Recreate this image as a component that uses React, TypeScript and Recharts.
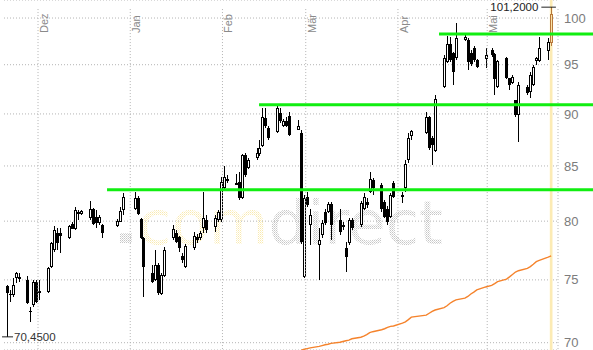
import React from 'react';
import {
  ComposedChart,
  Bar,
  Line,
  XAxis,
  YAxis,
  CartesianGrid,
  ReferenceLine,
  ReferenceArea,
} from 'recharts';

// trading day index, 0 = 1 Dez
const days = [
  -11, -10, -9, -8, -7, -4, -3, -2, -1, 0, 3, 4, 5, 6, 7, 10, 11, 12, 13, 14, 17, 18, 19, 20, 21,
  26, 27, 28, 32, 33, 34, 35, 38, 39, 40, 41, 42, 45, 46, 47, 48, 49, 52, 53, 54, 55, 56, 59, 60,
  61, 62, 63, 66, 67, 68, 69, 70, 73, 74, 75, 76, 77, 80, 81, 82, 83, 84, 87, 88, 89, 90, 91, 94,
  95, 96, 97, 98, 101, 102, 103, 104, 105, 108, 109, 110, 111, 112, 115, 116, 117, 118, 119, 122,
  123, 124, 125, 130, 131, 132, 133, 136, 137, 138, 139, 140, 143, 144, 145, 146, 147, 150, 152,
  153, 154, 157, 158, 159, 160, 161, 164, 165, 166, 167, 168, 171, 172,
];

const openPrices = [
  74.51, 73.85, 73.78, 75.14, 75.22, 75.0, 72.45, 72.97, 74.86, 74.02, 74.04, 76.05, 77.51, 78.99,
  78.94, 78.5, 79.75, 79.29, 80.84, 80.63, 80.25, 81.08, 80.39, 79.84, 79.66, 79.6, 79.95, 80.99,
  81.05, 82.03, 80.16, 78.5, 75.55, 75.0, 76.24, 73.86, 75.33, 78.5, 79.0, 78.59, 77.0, 76.1, 77.65,
  78.65, 78.5, 79.38, 80.1, 79.52, 80.1, 80.1, 82.94, 83.77, 83.4, 83.5, 82.03, 86.03, 84.84, 85.72,
  86.1, 86.91, 89.62, 88.64, 88.27, 90.07, 88.84, 89.31, 89.82, 88.47, 88.1, 75.27, 82.17, 79.66,
  77.94, 78.79, 80.84, 80.84, 81.52, 80.1, 79.52, 77.71, 78.07, 80.1, 79.66, 81.1, 81.69, 82.63,
  83.7, 83.24, 81.73, 81.1, 80.39, 83.4, 82.3, 83.0, 85.56, 87.87, 88.1, 89.72, 87.68, 86.42, 92.74,
  95.32, 97.15, 96.2, 95.67, 97.61, 97.61, 96.2, 96.73, 95.49, 95.6, 96.55, 96.09, 92.74, 95.67,
  93.6, 93.08, 91.39, 89.9, 92.74, 92.23, 92.91, 95.39, 95.39, 96.44, 97.26,
];

const highPrices = [
  74.59, 74.18, 75.16, 75.68, 75.57, 75.33, 72.83, 75.0, 75.0, 75.0, 76.07, 78.22, 79.58, 79.4,
  79.38, 79.66, 79.93, 81.23, 80.99, 80.99, 81.82, 81.17, 80.99, 80.55, 79.75, 80.19, 81.23, 82.54,
  82.63, 82.24, 80.28, 78.6, 76.24, 77.51, 76.38, 75.57, 77.79, 79.66, 79.23, 78.71, 77.23, 78.02,
  79.08, 78.88, 79.14, 82.63, 80.55, 80.55, 80.99, 84.02, 85.04, 84.17, 84.24, 84.48, 86.13, 86.22,
  85.75, 86.67, 87.46, 90.57, 90.57, 88.81, 90.74, 90.63, 89.5, 89.72, 90.2, 89.4, 88.43, 82.33,
  82.63, 81.1, 79.38, 80.1, 81.1, 81.73, 81.73, 81.1, 79.93, 78.22, 80.28, 80.28, 81.79, 82.51,
  82.06, 84.42, 83.88, 83.4, 81.88, 81.3, 82.51, 83.6, 82.63, 85.56, 88.1, 88.43, 90.2, 89.79,
  87.84, 91.85, 95.99, 98.07, 97.97, 96.34, 99.42, 98.15, 97.8, 96.5, 97.0, 95.6, 96.73, 96.73,
  96.2, 95.5, 95.8, 93.66, 93.93, 91.4, 93.25, 92.91, 94.27, 94.97, 95.8, 97.97, 97.8, 101.2,
];

const lowPrices = [
  70.45, 73.21, 73.61, 74.75, 74.84, 73.05, 71.64, 72.83, 73.13, 73.37, 73.94, 75.99, 77.34, 77.51,
  77.23, 78.45, 79.32, 79.23, 80.1, 80.55, 80.1, 79.66, 79.4, 79.66, 78.5, 79.49, 79.93, 80.55,
  80.99, 80.55, 78.45, 73.6, 74.75, 74.92, 73.78, 73.78, 75.25, 78.36, 78.1, 77.34, 76.38, 75.99,
  77.51, 78.1, 78.36, 78.94, 78.94, 79.08, 79.93, 79.95, 82.79, 83.42, 83.24, 81.88, 81.97, 84.0,
  84.72, 85.56, 85.93, 86.79, 88.59, 87.46, 88.14, 89.11, 88.7, 88.7, 87.84, 88.43, 78.0, 75.14,
  81.26, 77.94, 75.0, 78.5, 79.66, 80.72, 78.36, 78.79, 79.23, 75.68, 77.94, 79.23, 79.49, 80.99,
  81.18, 82.51, 82.33, 80.84, 80.28, 79.66, 80.28, 82.06, 81.6, 82.63, 85.24, 87.46, 88.0, 86.51,
  85.1, 86.36, 92.6, 95.18, 95.28, 92.9, 95.49, 97.5, 94.45, 94.9, 95.3, 94.63, 94.63, 95.8, 91.9,
  92.6, 93.53, 92.4, 93.0, 89.72, 87.3, 91.9, 91.56, 92.8, 94.97, 95.28, 95.49, 97.0,
];

const closePrices = [
  73.94, 73.78, 74.59, 75.55, 75.25, 73.1, 72.41, 74.86, 73.23, 74.06, 75.96, 78.13, 79.23, 78.07,
  78.71, 79.58, 79.34, 80.99, 80.63, 80.9, 81.1, 79.75, 79.84, 80.37, 78.99, 80.04, 80.93, 82.12,
  82.03, 80.61, 78.5, 76.1, 74.86, 76.24, 73.91, 75.41, 77.51, 79.29, 78.22, 77.65, 76.66, 77.85,
  78.73, 78.36, 78.94, 80.3, 79.23, 80.25, 80.79, 83.5, 84.02, 83.6, 83.43, 82.03, 86.03, 84.12,
  85.56, 86.2, 86.67, 89.72, 88.84, 87.62, 90.63, 89.31, 89.31, 88.84, 87.94, 88.84, 78.22, 82.03,
  81.43, 80.55, 78.36, 79.81, 79.81, 81.52, 79.66, 79.03, 79.66, 76.94, 80.1, 79.38, 81.58, 82.17,
  81.43, 83.79, 82.94, 81.1, 80.39, 79.95, 82.33, 82.17, 82.36, 85.15, 87.68, 88.33, 89.72, 86.67,
  86.98, 91.46, 95.67, 97.15, 95.49, 94.27, 97.82, 97.97, 95.32, 95.05, 95.49, 94.8, 95.99, 95.99,
  93.52, 95.39, 93.6, 92.91, 93.76, 89.9, 92.91, 92.07, 93.93, 94.8, 95.67, 96.73, 97.43, 100.4,
];

// 200-Tage-Linie (only the visible part)
const movingAvg: (number | null)[] = [
  ...Array(68).fill(null),
  69.42, 69.5, 69.55, 69.6, 69.72, 69.78, 69.84, 69.88, 69.95, 70.03, 70.09, 70.15, 70.2, 70.3,
  70.42, 70.5, 70.62, 70.78, 70.85, 71.0, 71.08, 71.18, 71.27, 71.3, 71.52, 71.62, 71.8, 71.99,
  72.15, 72.3, 72.45, 72.56, 72.75, 72.9, 73.1, 73.25, 73.37, 73.51, 73.65, 73.85, 74.0, 74.18,
  74.42, 74.55, 74.7, 74.86, 75.06, 75.25, 75.45, 75.65, 75.76, 75.96, 76.1, 76.3, 76.52, 76.62,
  76.9, 77.0,
];

const monthStarts = [0, 31, 62, 90, 121, 151];
const monthNames = ['Dez', 'Jan', 'Feb', 'Mär', 'Apr', 'Mai'];
const priceTicks = [70, 75, 80, 85, 90, 95, 100];

// horizontal resistance lines: start day and level
const resistStart = [22.7, 73.8, 134.3];
const resistLevel = [82.8, 90.9, 98.26];

const W = 593;
const H = 350;
const AXIS_W = 35;
const X_DOMAIN: [number, number] = [-11.94, 174.3];
const Y_DOMAIN: [number, number] = [69.44, 102.0];
const GRID_TOP = 100.99;
const FONT = '"Liberation Sans", Arial, sans-serif';
const GRID = '#b4b4b4';

const data = days.map((d, i) => ({
  d,
  o: openPrices[i],
  h: highPrices[i],
  l: lowPrices[i],
  c: closePrices[i],
  range: [lowPrices[i], highPrices[i]],
  ma: movingAvg[i],
}));

const lastIdx = data.length - 1;
const lastDay = days[lastIdx];
const maxHigh = Math.max(...highPrices);
const minLow = Math.min(...lowPrices);
const fmt = (v: number) => v.toFixed(4).replace('.', ',');

const Candle = (props: any) => {
  const { x, y, width, height, payload, index } = props;
  if (!payload || height == null) return null;
  const { o, h, l, c } = payload;
  const cx = Math.round(x + width / 2) + 0.5;
  const lnH = Math.log(h);
  const span = lnH - Math.log(l) || 1;
  const toY = (v: number) => y + (height * (lnH - Math.log(v))) / span;
  const top = Math.round(toY(Math.max(o, c)));
  const bottom = Math.round(toY(Math.min(o, c)));
  const last = index === lastIdx;
  const col = last ? '#b8783a' : '#000';
  const up = c >= o;
  return (
    <g shapeRendering="crispEdges">
      <line x1={cx} x2={cx} y1={Math.round(y)} y2={Math.round(y + height)} stroke={col} strokeWidth={1} />
      {up ? (
        <rect
          x={cx - 1}
          y={top + 0.5}
          width={2}
          height={Math.max(1, bottom - top - 1)}
          fill={last ? '#fbe3a6' : '#fff'}
          stroke={col}
          strokeWidth={1}
        />
      ) : (
        <rect x={cx - 1.5} y={top} width={3} height={Math.max(1, bottom - top)} fill={col} />
      )}
    </g>
  );
};

const MonthLabel = (props: any) => {
  const vb = props.viewBox || {};
  const tx = (vb.x || 0) + 10;
  const ty = 33;
  return (
    <text
      x={tx}
      y={ty}
      transform={`rotate(-90 ${tx} ${ty})`}
      fontSize={11}
      fontFamily={FONT}
      fill="#8a8a8a"
      textAnchor="start"
    >
      {props.name}
    </text>
  );
};

const PriceTick = (props: any) => {
  const { y, payload } = props;
  return (
    <text x={W - AXIS_W + 6} y={y} dy={4.6} fontSize={13} fontFamily={FONT} fill="#7c7c7c">
      {payload.value}
    </text>
  );
};

const HighLabel = (props: any) => {
  const vb = props.viewBox || {};
  return (
    <text x={vb.x - 3} y={vb.y + 4} fontSize={11.5} fontFamily={FONT} fill="#222" textAnchor="end">
      {fmt(maxHigh)}
    </text>
  );
};

const LowLabel = (props: any) => {
  const vb = props.viewBox || {};
  return (
    <text x={vb.x + (vb.width || 0) + 1} y={vb.y + 4.5} fontSize={11.5} fontFamily={FONT} fill="#333" textAnchor="start">
      {fmt(minLow)}
    </text>
  );
};

const Watermark = () => (
  <svg width={W} height={H} style={{ position: 'absolute', left: 0, top: 0 }}>
    <defs>
      <pattern id="wmGray" width="2" height="2" patternUnits="userSpaceOnUse">
        <rect x="0" y="0" width="1" height="1" fill="#c6c6c6" />
        <rect x="1" y="1" width="1" height="1" fill="#dcdcdc" />
      </pattern>
      <pattern id="wmYellow" width="2" height="2" patternUnits="userSpaceOnUse">
        <rect x="0" y="0" width="1" height="1" fill="#f9eab0" />
        <rect x="1" y="1" width="1" height="1" fill="#fdf5d6" />
      </pattern>
    </defs>
    <rect x={120} y={233} width={12} height={10} fill="url(#wmGray)" />
    <text
      x={138}
      y={244}
      fontSize={60}
      fontFamily='"DejaVu Sans", sans-serif'
      textLength={305}
      lengthAdjust="spacingAndGlyphs"
    >
      <tspan fill="url(#wmYellow)">com</tspan>
      <tspan fill="url(#wmGray)">direct</tspan>
    </text>
  </svg>
);

export default function App() {
  return (
    <div style={{ position: 'absolute', left: 0, top: 0, width: W, height: H, background: '#fff' }}>
      <Watermark />
      <div style={{ position: 'absolute', left: 0, top: 0 }}>
        <ComposedChart width={W} height={H} data={data} margin={{ top: 0, right: 0, bottom: 0, left: 4 }}>
          <CartesianGrid horizontal vertical={false} stroke={GRID} strokeDasharray="1 2" />
          <XAxis dataKey="d" type="number" domain={X_DOMAIN} allowDataOverflow hide />
          <YAxis
            orientation="right"
            scale="log"
            type="number"
            domain={Y_DOMAIN}
            allowDataOverflow
            ticks={priceTicks}
            interval={0}
            width={AXIS_W}
            axisLine={false}
            tickLine={false}
            tick={<PriceTick />}
          />
          {monthStarts.map((m, i) => (
            <ReferenceLine
              key={m}
              segment={[{ x: m - 0.5, y: GRID_TOP }, { x: m - 0.5, y: Y_DOMAIN[0] }]}
              stroke={GRID}
              strokeDasharray="1 2"
              label={<MonthLabel name={monthNames[i]} />}
            />
          ))}
          <ReferenceLine
            segment={[{ x: X_DOMAIN[1], y: GRID_TOP }, { x: X_DOMAIN[1], y: Y_DOMAIN[0] }]}
            stroke={GRID}
            strokeDasharray="1 2"
          />
          <ReferenceArea
            x1={lastDay - 0.45}
            x2={lastDay + 0.45}
            y1={Y_DOMAIN[0]}
            y2={Y_DOMAIN[1]}
            fill="#fcebb4"
            fillOpacity={1}
            stroke="none"
          />
          <Bar dataKey="range" barSize={3} shape={<Candle />} isAnimationActive={false} />
          <Line
            dataKey="ma"
            stroke="#f5832c"
            strokeWidth={1.4}
            dot={false}
            activeDot={false}
            connectNulls={false}
            isAnimationActive={false}
          />
          {resistStart.map((s, i) => (
            <ReferenceLine
              key={`r${i}`}
              segment={[{ x: s, y: resistLevel[i] }, { x: 186.2, y: resistLevel[i] }]}
              stroke="#11ee11"
              strokeWidth={3}
              ifOverflow="visible"
            />
          ))}
          <ReferenceLine
            segment={[{ x: lastDay - 3.3, y: maxHigh }, { x: lastDay + 1.6, y: maxHigh }]}
            stroke="#222"
            strokeWidth={1}
            ifOverflow="visible"
            label={<HighLabel />}
          />
          <ReferenceLine
            segment={[{ x: days[0] - 1.6, y: minLow }, { x: days[0] + 2.1, y: minLow }]}
            stroke="#222"
            strokeWidth={1}
            ifOverflow="visible"
            label={<LowLabel />}
          />
        </ComposedChart>
      </div>
    </div>
  );
}
